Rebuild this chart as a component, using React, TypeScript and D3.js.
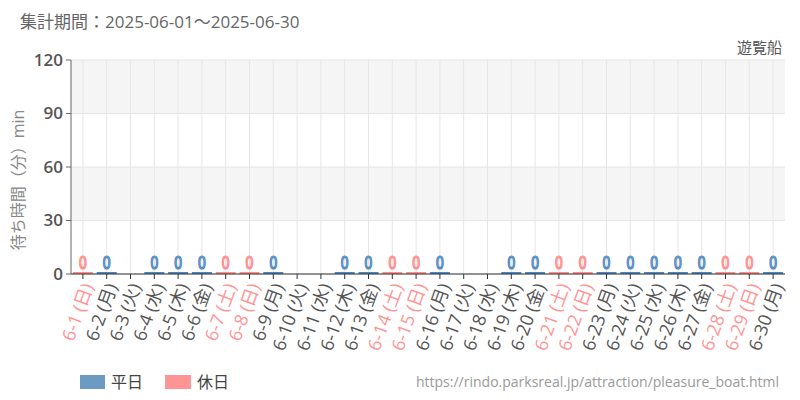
import React from "react";
import * as d3 from "d3";

const dates = ["6-1","6-2","6-3","6-4","6-5","6-6","6-7","6-8","6-9","6-10","6-11","6-12","6-13","6-14","6-15","6-16","6-17","6-18","6-19","6-20","6-21","6-22","6-23","6-24","6-25","6-26","6-27","6-28","6-29","6-30"];
const weekdays = ["日","月","火","水","木","金","土","日","月","火","水","木","金","土","日","月","火","水","木","金","土","日","月","火","水","木","金","土","日","月"];
const holidayFlags = [1,0,0,0,0,0,1,1,0,0,0,0,0,1,1,0,0,0,0,0,1,1,0,0,0,0,0,1,1,0];
const waitValues: (number | null)[] = [0,0,null,0,0,0,0,0,0,null,null,0,0,0,0,0,null,null,0,0,0,0,0,0,0,0,0,0,0,0];
const yTicks = [0, 30, 60, 90, 120];

const FONT = "'Open Sans', 'Noto Sans CJK JP', sans-serif";
const W = 800, H = 400;
const M = { left: 71, right: 785, top: 60, bottom: 274 };

export default function App() {
  const x = d3.scaleBand<string>().domain(dates).range([M.left, M.right]).paddingInner(0.16).paddingOuter(0.08);
  const xc = d3.scalePoint<string>().domain(dates).range([M.left, M.right]).padding(0.5);
  const y = d3.scaleLinear().domain([0, 120]).range([M.bottom, M.top]);
  const bands = [[90, 120], [30, 60]];
  const blue = "#6b9bc3", red = "#ff9494";
  const barBlue = "#4a86c0", barRed = "#ff8a8a";

  return (
    <svg width={W} height={H} style={{ display: "block", margin: -8, fontFamily: FONT }}>
      <rect x={0} y={0} width={W} height={H} fill="#fff" />
      <text x={20} y={28} fontSize={17} fill="#666">集計期間：2025-06-01～2025-06-30</text>
      <text x={782} y={53} fontSize={15} fill="#555" textAnchor="end">遊覧船</text>

      {bands.map(([a, b], i) => (
        <rect key={i} x={M.left} y={y(b)} width={M.right - M.left} height={y(a) - y(b)} fill="#f5f5f5" />
      ))}
      {yTicks.map((t) => (
        <line key={t} x1={M.left} x2={M.right} y1={y(t)} y2={y(t)} stroke="#e6e6e6" />
      ))}
      {dates.map((d) => (
        <line key={d} x1={xc(d)} x2={xc(d)} y1={M.top} y2={M.bottom} stroke="#e6e6e6" />
      ))}

      {/* y axis */}
      <line x1={M.left} x2={M.left} y1={M.top} y2={M.bottom} stroke="#666" />
      {yTicks.map((t) => (
        <g key={t}>
          <line x1={M.left - 5} x2={M.left} y1={y(t)} y2={y(t)} stroke="#666" />
          <text x={M.left - 8} y={y(t)} dy="0.35em" textAnchor="end" fontSize={17} fontWeight={600} fill="#555">{t}</text>
        </g>
      ))}
      <text transform={`translate(24,180) rotate(-90)`} textAnchor="middle" fontSize={16} fill="#888">待ち時間（分）min</text>

      {/* bars */}
      {dates.map((d, i) => {
        const v = waitValues[i];
        if (v === null) return null;
        const hol = holidayFlags[i] === 1;
        const top = Math.min(y(v), M.bottom - 2);
        const lx = xc(d)!;
        const ly = top - 3;
        return (
          <g key={d}>
            <rect x={x(d)} y={top} width={x.bandwidth()} height={M.bottom - top} fill={hol ? barRed : barBlue} />
            <text x={lx} y={ly} textAnchor="middle" fontSize={17} fontFamily="'Liberation Sans Narrow', 'DejaVu Sans Condensed', sans-serif" transform={`translate(${lx},${ly}) scale(0.85,1) translate(${-lx},${-ly})`} fill={hol ? "#ffe2e2" : "#dde8f3"} stroke={hol ? barRed : barBlue} strokeWidth={1.2}>{v}</text>
          </g>
        );
      })}

      {/* x axis */}
      <line x1={M.left} x2={M.right} y1={M.bottom} y2={M.bottom} stroke="#333" />
      {dates.map((d, i) => {
        const cx = xc(d)!;
        const hol = holidayFlags[i] === 1;
        return (
          <g key={d}>
            <line x1={cx} x2={cx} y1={M.bottom} y2={M.bottom + 5} stroke="#333" />
            <text transform={`translate(${cx + 5},${M.bottom + 10}) rotate(-70)`} textAnchor="end" dy="0.35em" fontSize={18} fill={hol ? red : "#555"}>
              {`${d} (${weekdays[i]})`}
            </text>
          </g>
        );
      })}

      {/* legend */}
      <rect x={80} y={375} width={25} height={14} fill={blue} />
      <text x={111} y={382} dy="0.35em" fontSize={16} fill="#444">平日</text>
      <rect x={165} y={375} width={26} height={14} fill={red} />
      <text x={197} y={382} dy="0.35em" fontSize={16} fill="#444">休日</text>

      <text x={779} y={382} dy="0.35em" textAnchor="end" fontSize={14} fill="#999">https://rindo.parksreal.jp/attraction/pleasure_boat.html</text>
    </svg>
  );
}
